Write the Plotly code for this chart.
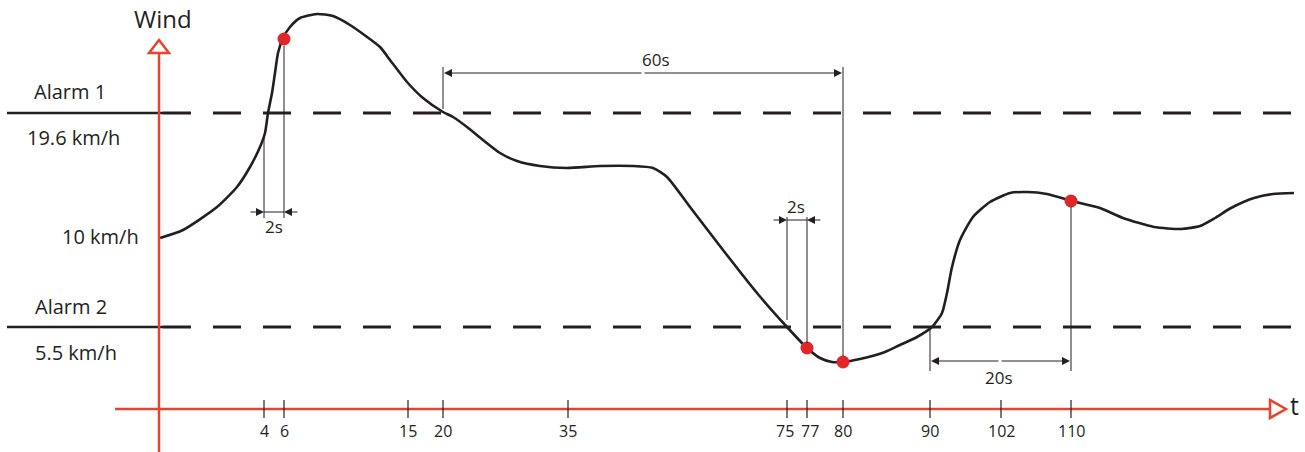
import plotly.graph_objects as go

# ---- schematic data (horizontal position units, vertical position units; y grows downward) ----
curve_x = [160, 183, 217, 237, 250, 260, 265, 268, 272, 275, 278, 283, 290, 300, 317, 333, 350, 380, 390,
           407, 423, 443, 453, 467, 483, 500, 517, 540, 567, 600, 633, 653, 667, 690, 723, 757, 787, 807,
           820, 832, 843, 860, 885, 900, 917, 932, 942, 947, 952, 960, 973, 990, 1010, 1027, 1047, 1072,
           1100, 1123, 1154, 1181, 1200, 1215, 1231, 1254, 1273, 1294]
curve_y = [238, 230, 207, 187, 167, 147, 133, 113, 93, 73, 53, 38, 27, 18, 14, 16, 25, 47, 60,
           82, 98, 112, 117, 127, 140, 153, 161, 166, 168, 166, 166, 168, 177, 207, 250, 293, 327, 348,
           358, 362, 362, 359, 352, 345, 337, 327, 313, 293, 267, 240, 217, 202, 193, 192, 194, 201,
           208, 218, 227, 229, 226, 218, 208, 198, 194, 193]

tick_pos = [264, 284, 408, 443, 568, 787, 807, 843, 930, 1001, 1071]
tick_labels = ["4", "6", "15", "20", "35", "75", "77", "80", "90", "102", "110"]

event_x = [284, 807, 843, 1071]
event_y = [39, 348, 362, 201]

alarm_y = [113, 327]
alarm_names = ["Alarm 1", "Alarm 2"]
alarm_values = ["19.6 km/h", "5.5 km/h"]
start_label = "10 km/h"

INK = "#231f20"
RED = "#e8432c"
DOT = "#e1262a"
FONT = "Open Sans"

fig = go.Figure()

# curve
fig.add_trace(go.Scatter(x=curve_x, y=curve_y, mode="lines",
                         line=dict(color=INK, width=2.6, shape="spline", smoothing=0.6),
                         hoverinfo="skip"))

shapes = []
# alarm lines: solid part then dashed part
for ay in alarm_y:
    shapes.append(dict(type="line", x0=7, x1=163, y0=ay, y1=ay, line=dict(color=INK, width=2.6)))
    shapes.append(dict(type="line", x0=163, x1=1292, y0=ay, y1=ay,
                       line=dict(color=INK, width=3, dash="28px,22px")))

# red axes
shapes.append(dict(type="line", x0=159, x1=159, y0=452, y1=53, line=dict(color=RED, width=2.5)))
shapes.append(dict(type="line", x0=115, x1=1270, y0=409, y1=409, line=dict(color=RED, width=2.5)))
shapes.append(dict(type="path", path="M 159 40 L 169 53 L 149 53 Z",
                   line=dict(color=RED, width=2.5), fillcolor="white"))
shapes.append(dict(type="path", path="M 1286 409 L 1270 400 L 1270 418 Z",
                   line=dict(color=RED, width=2.5), fillcolor="white"))

# tick marks
for tp in tick_pos:
    shapes.append(dict(type="line", x0=tp, x1=tp, y0=400, y1=418, line=dict(color=INK, width=1.2)))

# thin dimension guide lines
thin = dict(color=INK, width=1)
guides = [
    (264, 138, 218), (284, 46, 218),          # first 2s
    (443, 67, 109), (843, 67, 356),           # 60s
    (787, 217, 320), (807, 217, 343),         # second 2s
    (930, 327, 371), (1071, 207, 371),        # 20s
]
for gx, gy0, gy1 in guides:
    shapes.append(dict(type="line", x0=gx, x1=gx, y0=gy0, y1=gy1, line=thin))
# connecting segments between inward arrows
shapes.append(dict(type="line", x0=264, x1=284, y0=212, y1=212, line=thin))
shapes.append(dict(type="line", x0=787, x1=807, y0=220, y1=220, line=thin))

annotations = []

def arrow(hx, hy, tx, ty):
    annotations.append(dict(x=hx, y=hy, ax=tx, ay=ty, xref="x", yref="y", axref="x", ayref="y",
                            text="", showarrow=True, arrowhead=2, arrowsize=1.6, arrowwidth=1,
                            arrowcolor=INK, standoff=0, startstandoff=0))

# 60s (outward)
arrow(444, 73, 643, 73)
arrow(842, 73, 643, 73)
# 2s (inward)
arrow(264, 212, 249, 212)
arrow(284, 212, 299, 212)
arrow(787, 220, 772, 220)
arrow(807, 220, 822, 220)
# 20s (outward)
arrow(931, 361, 1000, 361)
arrow(1070, 361, 1000, 361)

# event dots
fig.add_trace(go.Scatter(x=event_x, y=event_y, mode="markers",
                         marker=dict(color=DOT, size=13, line=dict(width=0)), hoverinfo="skip"))

def text(x, y, s, size, xanchor="center", xshift=0):
    annotations.append(dict(x=x, y=y, xref="x", yref="y", text=s, showarrow=False,
                            xanchor=xanchor, yanchor="middle", xshift=xshift,
                            font=dict(family=FONT, size=size, color=INK)))

text(163, 18, "Wind", 24)
text(1294, 405, "t", 25)
text(70, 91, alarm_names[0], 20)
text(73, 137, alarm_values[0], 20)
text(141, 236, start_label, 20, xanchor="right")
text(71, 306, alarm_names[1], 20)
text(76, 352, alarm_values[1], 20)

# small label nudges where two ticks sit close together
label_shift = {"75": -2, "77": 3}
for tp, tl in zip(tick_pos, tick_labels):
    text(tp, 431, tl, 16, xshift=label_shift.get(tl, 0))

text(274, 226, "2s", 17)
text(796, 206, "2s", 17)
text(656, 59, "60s", 17)
text(999, 377, "20s", 17)

fig.update_layout(
    width=1305, height=452,
    margin=dict(l=0, r=0, t=0, b=0),
    paper_bgcolor="white", plot_bgcolor="white",
    showlegend=False,
    hovermode=False,
    xaxis=dict(range=[0, 1305], visible=False, fixedrange=True),
    yaxis=dict(range=[452, 0], visible=False, fixedrange=True),
    shapes=shapes,
    annotations=annotations,
)

# remove the page's default 8px body margin so the figure fills the window exactly
fig.write_html("out.html", config={"displayModeBar": False},
               post_script="document.body.style.margin='0';document.body.style.overflow='hidden';")
